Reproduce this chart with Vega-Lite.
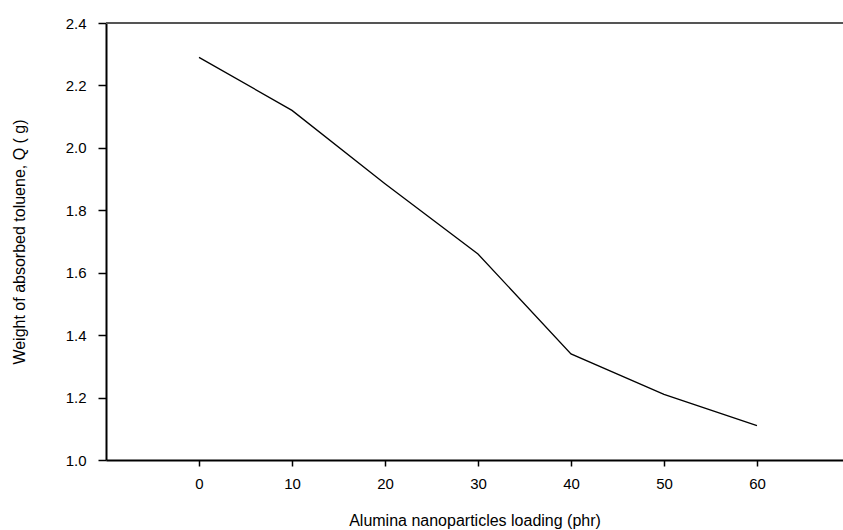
{
  "$schema": "https://vega.github.io/schema/vega-lite/v6.json",
  "width": 737,
  "height": 437,
  "autosize": {"type": "none"},
  "padding": {"left": 106, "top": 23, "right": 0, "bottom": 70},
  "background": "white",
  "config": {
    "view": {"stroke": null},
    "font": "Liberation Sans",
    "axis": {"grid": false, "labelFont": "Liberation Sans", "titleFont": "Liberation Sans", "titleFontWeight": "normal", "labelColor": "#000", "titleColor": "#000", "domainColor": "#000", "tickColor": "#000"}
  },
  "data": {
    "values": [
      {"loading": 0, "Q": 2.29},
      {"loading": 10, "Q": 2.12},
      {"loading": 20, "Q": 1.885},
      {"loading": 30, "Q": 1.66},
      {"loading": 40, "Q": 1.34},
      {"loading": 50, "Q": 1.21},
      {"loading": 60, "Q": 1.11}
    ]
  },
  "layer": [
    {
      "mark": {"type": "rule", "color": "#555", "strokeWidth": 2},
      "encoding": {"y": {"datum": 2.4, "type": "quantitative"}}
    },
    {
      "mark": {"type": "line", "color": "#000", "strokeWidth": 1.3},
      "encoding": {
        "x": {
          "field": "loading", "type": "quantitative",
          "scale": {"domain": [-10, 69.25], "nice": false, "zero": false},
          "axis": {
            "values": [0, 10, 20, 30, 40, 50, 60],
            "title": "Alumina nanoparticles loading (phr)",
            "labelFontSize": 15, "titleFontSize": 16,
            "tickSize": 6, "labelPadding": 10,
            "domainWidth": 2, "tickWidth": 1.5,
            "titleY": 65, "titleBaseline": "alphabetic"
          }
        },
        "y": {
          "field": "Q", "type": "quantitative",
          "scale": {"domain": [1.0, 2.4], "nice": false, "zero": false},
          "axis": {
            "values": [1.0, 1.2, 1.4, 1.6, 1.8, 2.0, 2.2, 2.4],
            "format": ".1f",
            "title": "Weight of absorbed toluene, Q (  g)",
            "labelFontSize": 15, "titleFontSize": 16,
            "tickSize": 8, "labelPadding": 12,
            "domainWidth": 2, "tickWidth": 1.5,
            "titleX": -82, "titleBaseline": "alphabetic"
          }
        }
      }
    }
  ]
}
